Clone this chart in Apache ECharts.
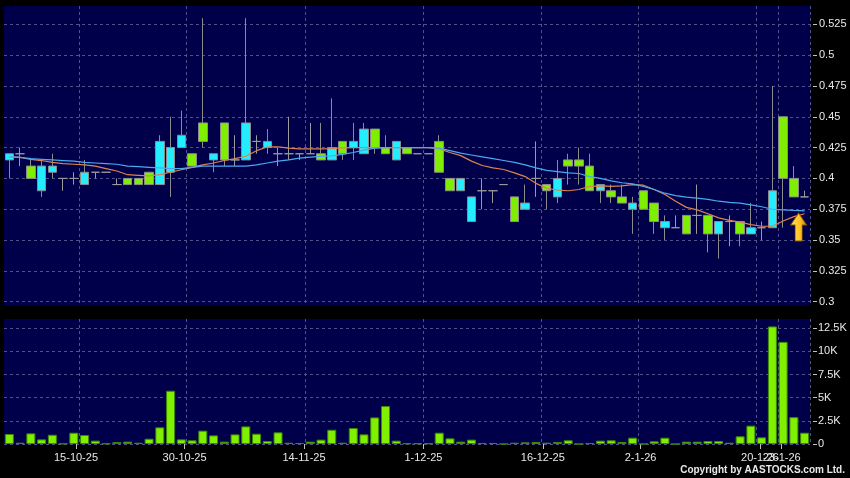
<!DOCTYPE html>
<html>
<head>
<meta charset="utf-8">
<script src="https://cdn.jsdelivr.net/npm/echarts@6/dist/echarts.min.js"></script>
<style>
html,body{margin:0;padding:0;background:#000;}
#chart{width:850px;height:478px;}
</style>
</head>
<body>
<div id="chart"></div>
<script>
const dates = ['3-10-25','6-10-25','8-10-25','9-10-25','10-10-25','13-10-25','14-10-25','15-10-25','16-10-25','17-10-25',
'20-10-25','21-10-25','22-10-25','23-10-25','24-10-25','27-10-25','28-10-25','30-10-25','31-10-25','3-11-25',
'4-11-25','5-11-25','6-11-25','7-11-25','10-11-25','11-11-25','12-11-25','13-11-25','14-11-25','17-11-25',
'18-11-25','19-11-25','20-11-25','21-11-25','24-11-25','25-11-25','26-11-25','27-11-25','28-11-25','1-12-25',
'2-12-25','3-12-25','4-12-25','5-12-25','8-12-25','9-12-25','10-12-25','11-12-25','12-12-25','15-12-25',
'16-12-25','17-12-25','18-12-25','19-12-25','22-12-25','23-12-25','24-12-25','29-12-25','30-12-25','2-1-26',
'5-1-26','6-1-26','7-1-26','8-1-26','9-1-26','12-1-26','13-1-26','14-1-26','15-1-26','16-1-26',
'20-1-26','21-1-26','23-1-26','26-1-26','27-1-26'];

const labelledDates = ['15-10-25','30-10-25','14-11-25','1-12-25','16-12-25','2-1-26','20-1-26'];
const lastLabelledDate = '23-1-26';

const opens  = [0.415,0.42,0.41,0.39,0.405,0.40,0.40,0.395,0.405,0.405,
0.395,0.40,0.40,0.405,0.395,0.405,0.425,0.42,0.445,0.415,
0.445,0.415,0.415,0.43,0.425,0.42,0.42,0.42,0.42,0.42,
0.415,0.43,0.425,0.42,0.44,0.425,0.415,0.425,0.42,0.42,
0.43,0.40,0.39,0.365,0.39,0.39,0.395,0.385,0.375,0.40,
0.395,0.385,0.415,0.415,0.41,0.39,0.39,0.385,0.375,0.39,
0.38,0.36,0.36,0.37,0.37,0.37,0.355,0.365,0.365,0.355,
0.36,0.36,0.45,0.40,0.385];
const closes = [0.42,0.42,0.40,0.41,0.41,0.40,0.40,0.405,0.405,0.405,
0.395,0.395,0.395,0.395,0.43,0.425,0.435,0.41,0.43,0.42,
0.415,0.415,0.445,0.43,0.43,0.42,0.42,0.42,0.42,0.415,
0.425,0.42,0.43,0.44,0.425,0.42,0.43,0.42,0.42,0.42,
0.405,0.39,0.40,0.385,0.39,0.39,0.395,0.365,0.38,0.40,
0.39,0.40,0.41,0.41,0.39,0.395,0.385,0.38,0.38,0.375,
0.365,0.365,0.36,0.355,0.37,0.355,0.365,0.365,0.355,0.36,
0.36,0.39,0.40,0.385,0.385];
const lows   = [0.40,0.41,0.40,0.385,0.40,0.39,0.395,0.395,0.40,0.405,
0.395,0.395,0.395,0.395,0.395,0.385,0.425,0.41,0.425,0.405,
0.41,0.41,0.415,0.42,0.42,0.41,0.415,0.415,0.42,0.415,
0.415,0.415,0.415,0.42,0.42,0.42,0.415,0.42,0.42,0.42,
0.405,0.39,0.39,0.365,0.375,0.38,0.395,0.365,0.375,0.385,
0.375,0.38,0.395,0.395,0.39,0.38,0.38,0.38,0.355,0.375,
0.355,0.35,0.36,0.355,0.355,0.34,0.335,0.345,0.345,0.355,
0.35,0.36,0.36,0.385,0.385];
const highs  = [0.42,0.425,0.415,0.415,0.42,0.40,0.405,0.415,0.405,0.405,
0.40,0.40,0.40,0.405,0.435,0.45,0.455,0.42,0.53,0.42,
0.445,0.435,0.53,0.435,0.44,0.425,0.45,0.42,0.445,0.445,
0.465,0.43,0.445,0.445,0.44,0.435,0.43,0.425,0.42,0.42,
0.435,0.40,0.40,0.385,0.40,0.39,0.395,0.385,0.395,0.43,
0.395,0.415,0.42,0.425,0.42,0.395,0.395,0.395,0.385,0.39,
0.38,0.37,0.37,0.37,0.395,0.37,0.365,0.37,0.365,0.38,
0.365,0.475,0.45,0.41,0.39];

const volumes = [1080,140,1150,500,1000,40,1220,970,360,50,
200,250,140,570,1800,5750,500,400,1440,930,
250,1040,1900,1110,320,1260,140,110,250,470,
1540,140,1720,1040,2870,4100,360,70,70,70,
1220,610,250,470,110,110,0,140,180,220,
140,220,400,0,100,360,400,220,680,0,
290,680,0,250,250,320,320,140,830,1980,
720,12700,11030,2900,1220];

const ma10 = [0.4175,0.417,0.4155,0.4145,0.413,0.412,0.4115,0.411,0.410,0.408,
0.406,0.403,0.4025,0.402,0.403,0.405,0.407,0.409,0.411,0.4125,
0.4145,0.416,0.418,0.4225,0.4255,0.4255,0.4245,0.424,0.424,0.424,
0.4242,0.4247,0.425,0.425,0.425,0.425,0.425,0.425,0.425,0.425,
0.424,0.421,0.4185,0.414,0.4105,0.4085,0.4072,0.4045,0.4015,0.396,
0.392,0.3905,0.390,0.391,0.3935,0.394,0.3935,0.394,0.395,0.3945,
0.391,0.387,0.3815,0.3765,0.3745,0.3713,0.368,0.366,0.3646,0.3625,
0.3612,0.3612,0.3654,0.369,0.3713];
const ma20 = [0.4175,0.417,0.416,0.4155,0.415,0.4145,0.414,0.413,0.4125,0.412,
0.4115,0.410,0.4095,0.409,0.4085,0.408,0.408,0.409,0.410,0.410,
0.410,0.410,0.410,0.411,0.4125,0.414,0.415,0.4165,0.4172,0.4178,
0.4183,0.4195,0.421,0.423,0.4245,0.425,0.425,0.425,0.425,0.425,
0.4245,0.4225,0.4205,0.419,0.4175,0.416,0.4145,0.413,0.411,0.4085,
0.4065,0.4055,0.4045,0.404,0.4015,0.400,0.398,0.3965,0.3955,0.3935,
0.391,0.388,0.386,0.3848,0.384,0.383,0.3815,0.3805,0.380,0.3785,
0.377,0.375,0.3745,0.374,0.3737];

const priceTicks = [0.3,0.325,0.35,0.375,0.4,0.425,0.45,0.475,0.5,0.525];
const volumeTicks = [0,2500,5000,7500,10000,12500];

const candles = dates.map((d,i)=>[opens[i],closes[i],lows[i],highs[i]]);
const labelSet = new Set(labelledDates.map(d=>dates.indexOf(d)));
const lastIdx = dates.indexOf(lastLabelledDate);
const gridSet = new Set([...labelSet, lastIdx]);

const FONT = 'Liberation Sans, Arial, sans-serif';
const NAVY = '#00004a';
const GRIDC = '#50508a';

const labelAxis = (only, idxSet) => ({
  type:'category', gridIndex:2, data:dates, boundaryGap:false, position:'bottom',
  axisLine:{show:false},
  axisTick:{show:true, interval:(i)=>idxSet.has(i), length:5, lineStyle:{color:'#c0c0c0'}},
  axisLabel:{show:true, interval:(i)=>idxSet.has(i), color:'#e8e8e8', fontSize:11, fontFamily:FONT, margin:8, hideOverlap:false},
  splitLine:{show:false}
});

const chart = echarts.init(document.getElementById('chart'));
chart.setOption({
  animation:false,
  backgroundColor:'#000',
  grid:[
    {left:4, right:40, top:6, height:300, show:true, backgroundColor:NAVY, borderWidth:0},
    {left:4, right:40, top:319, height:125, show:true, backgroundColor:NAVY, borderWidth:0},
    {left:-0.8, width:804.2, top:319, height:125, show:false},
    {left:-0.8, width:804.2, top:319, height:125, show:false}
  ],
  xAxis:[
    {type:'category', gridIndex:0, data:dates, boundaryGap:true,
     axisLine:{show:false}, axisTick:{show:false}, axisLabel:{show:false},
     splitLine:{show:true, interval:(i)=>gridSet.has(i), lineStyle:{color:GRIDC, type:[3,3], width:1}}},
    {type:'category', gridIndex:1, data:dates, boundaryGap:true,
     axisLine:{show:false}, axisTick:{show:false}, axisLabel:{show:false},
     splitLine:{show:true, interval:(i)=>gridSet.has(i), lineStyle:{color:GRIDC, type:[3,3], width:1}}},
    labelAxis(false, labelSet),
    Object.assign(labelAxis(true, new Set([lastIdx])), {gridIndex:3})
  ],
  yAxis:[
    {type:'value', gridIndex:0, position:'right', min:0.29651, max:0.53984, offset:3,
     axisLine:{show:false},
     axisTick:{show:true, customValues:priceTicks, length:4, lineStyle:{color:'#c0c0c0'}},
     axisLabel:{show:true, customValues:priceTicks, margin:6, color:'#e8e8e8', fontSize:11, fontFamily:FONT,
       formatter:(v)=>String(+(+v).toFixed(3))},
     splitLine:{show:true, lineStyle:{color:GRIDC, type:[3,3], width:1}}},
    {type:'value', gridIndex:1, position:'right', min:0, max:13500, offset:3,
     axisLine:{show:false},
     axisTick:{show:true, customValues:volumeTicks, length:4, lineStyle:{color:'#c0c0c0'}},
     axisLabel:{show:true, customValues:volumeTicks, margin:5, color:'#e8e8e8', fontSize:11, fontFamily:FONT,
       formatter:(v)=> v===0 ? '0' : (v/1000)+'K'},
     splitLine:{show:true, lineStyle:{color:GRIDC, type:[3,3], width:1}}},
    {type:'value', gridIndex:2, show:false},
    {type:'value', gridIndex:3, show:false}
  ],
  series:[
    {type:'candlestick', xAxisIndex:0, yAxisIndex:0, data:candles, barWidth:9,
     itemStyle:{color:'#22eeff', color0:'#80ee00', borderColor:'#8c8c8c', borderColor0:'#8c8c8c', borderColorDoji:'#9a9a9a', borderWidth:1},
     markPoint:{
       silent:true,
       data:[{coord:[dates.length-1, 0.3606], value:'',
         symbol:'path://M8,0 L16,12 L11.5,12 L11.5,28 L4.5,28 L4.5,12 L0,12 Z',
         symbolSize:[16,28], symbolOffset:[-6,0],
         itemStyle:{color:new echarts.graphic.LinearGradient(0,0,1,0,[{offset:0,color:'#ffe45a'},{offset:0.6,color:'#ffc020'},{offset:1,color:'#c07a00'}]), borderColor:'#8a5a00', borderWidth:0.8},
         label:{show:false}}]
     }},
    {type:'line', xAxisIndex:0, yAxisIndex:0, data:ma10, showSymbol:false, smooth:false,
     lineStyle:{color:'#d9834f', width:1.2}},
    {type:'line', xAxisIndex:0, yAxisIndex:0, data:ma20, showSymbol:false, smooth:false,
     lineStyle:{color:'#4aa8ee', width:1.2}},
    {type:'bar', xAxisIndex:1, yAxisIndex:1, data:volumes, barWidth:9,
     itemStyle:{color:'#80f000', borderColor:'#3a8a00', borderWidth:1}}
  ],
  graphic:[
    {type:'text', right:5, top:465, style:{text:'Copyright by AASTOCKS.com Ltd.', fill:'#e8e8e8', font:'bold 10px '+FONT}}
  ]
});
</script>
</body>
</html>
